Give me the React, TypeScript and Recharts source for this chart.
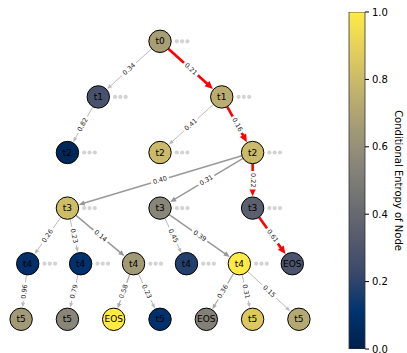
import React from 'react';
import { ScatterChart, Scatter, XAxis, YAxis, ReferenceLine, BarChart, Bar } from 'recharts';

const FONT = 'DejaVu Sans, Verdana, sans-serif';

// ---- nodes ----
const nodeLabels = ['t0', 't1', 't1', 't2', 't2', 't2', 't3', 't3', 't3', 't4', 't4', 't4', 't4', 't4', 'EOS', 't5', 't5', 'EOS', 't5', 'EOS', 't5', 't5'];
const nodeLevels = [0, 1, 1, 2, 2, 2, 3, 3, 3, 4, 4, 4, 4, 4, 4, 5, 5, 5, 5, 5, 5, 5];
const nodeEntropy = [0.67, 0.28, 0.74, 0.04, 0.8, 0.8, 0.81, 0.55, 0.35, 0.09, 0.1, 0.65, 0.18, 1.0, 0.29, 0.65, 0.55, 1.0, 0.1, 0.52, 0.86, 0.72];
const nodeHasMore = [1, 1, 1, 1, 1, 1, 1, 1, 1, 1, 1, 1, 1, 1, 0, 0, 0, 0, 0, 0, 0, 0];

// ---- edges ----
const edgeFrom = [0, 0, 1, 2, 2, 5, 5, 5, 6, 6, 6, 7, 7, 8, 9, 10, 11, 11, 13, 13, 13];
const edgeTo = [1, 2, 3, 4, 5, 6, 7, 8, 9, 10, 11, 12, 13, 14, 15, 16, 17, 18, 19, 20, 21];
const edgeProb = [0.34, 0.21, 0.82, 0.41, 0.16, 0.40, 0.31, 0.22, 0.26, 0.23, 0.14, 0.45, 0.39, 0.61, 0.96, 0.79, 0.58, 0.23, 0.36, 0.31, 0.15];
const edgeKind = ['weak', 'best', 'weak', 'weak', 'best', 'strong', 'strong', 'best', 'weak', 'weak', 'strong', 'weak', 'strong', 'best', 'weak', 'weak', 'mid', 'weak', 'mid', 'weak', 'weak'];

// ---- colorbar ----
const cbTicks = [0, 0.2, 0.4, 0.6, 0.8, 1.0];
const cbTitle = 'Conditional Entropy of Node';

const CIVIDIS = ['#00204d', '#00336f', '#39486b', '#575c6d', '#707173', '#8a8779', '#a69d75', '#c4b56c', '#e4cf5b', '#ffea46'];

function hexToRgb(h: string) {
  return [parseInt(h.slice(1, 3), 16), parseInt(h.slice(3, 5), 16), parseInt(h.slice(5, 7), 16)];
}
function cividis(t: number) {
  const v = Math.max(0, Math.min(1, t)) * (CIVIDIS.length - 1);
  const i = Math.min(CIVIDIS.length - 2, Math.floor(v));
  const f = v - i;
  const a = hexToRgb(CIVIDIS[i]);
  const b = hexToRgb(CIVIDIS[i + 1]);
  const c = a.map((x, k) => Math.round(x + (b[k] - x) * f));
  return `rgb(${c[0]},${c[1]},${c[2]})`;
}

const levelCounts: Record<number, number> = {};
nodeLevels.forEach((l) => { levelCounts[l] = (levelCounts[l] || 0) + 1; });
const levelSeen: Record<number, number> = {};
const nodes = nodeLabels.map((label, i) => {
  const l = nodeLevels[i];
  const idx = levelSeen[l] || 0;
  levelSeen[l] = idx + 1;
  return {
    x: (idx + 1) / (levelCounts[l] + 1),
    y: l,
    label,
    color: cividis(nodeEntropy[i]),
    more: nodeHasMore[i] === 1,
  };
});

const R = 11.2;
const STYLES: Record<string, { stroke: string; w: number; hl: number; hw: number }> = {
  best: { stroke: '#ff0000', w: 2.6, hl: 8, hw: 3.6 },
  strong: { stroke: '#999999', w: 1.5, hl: 6, hw: 2.6 },
  mid: { stroke: '#aaaaaa', w: 1.2, hl: 5, hw: 2.2 },
  weak: { stroke: '#bbbbbb', w: 1, hl: 5, hw: 2 },
};

const makeEdgeShape = (k: number) => (p: any) => {
  const { x1, y1, x2, y2 } = p;
  const st = STYLES[edgeKind[k]];
  const dx = x2 - x1;
  const dy = y2 - y1;
  const L = Math.hypot(dx, dy) || 1;
  const ux = dx / L;
  const uy = dy / L;
  const sx = x1 + ux * R;
  const sy = y1 + uy * R;
  const tx = x2 - ux * (R + 0.6);
  const ty = y2 - uy * (R + 0.6);
  const bx = tx - ux * st.hl;
  const by = ty - uy * st.hl;
  const px = -uy;
  const py = ux;
  let ang = (Math.atan2(dy, dx) * 180) / Math.PI;
  if (ang > 90) ang -= 180;
  if (ang <= -90) ang += 180;
  const mx = (x1 + x2) / 2;
  const my = (y1 + y2) / 2;
  const txt = edgeProb[k].toFixed(2);
  const fs = 6.5;
  const tw = txt.length * fs * 0.6 + 3;
  const th = fs + 2.5;
  return (
    <g>
      <line x1={sx} y1={sy} x2={bx + ux * 1} y2={by + uy * 1} stroke={st.stroke} strokeWidth={st.w} />
      <polygon
        points={`${tx},${ty} ${bx + px * st.hw},${by + py * st.hw} ${bx - px * st.hw},${by - py * st.hw}`}
        fill={st.stroke}
      />
      <g transform={`translate(${mx},${my}) rotate(${ang})`}>
        <rect x={-tw / 2} y={-th / 2} width={tw} height={th} rx={1.5} fill="#ffffff" />
        <text x={0} y={0} textAnchor="middle" dominantBaseline="central" fontSize={fs} fontFamily={FONT} fill="#222">
          {txt}
        </text>
      </g>
    </g>
  );
};

const NodeShape = (p: any) => {
  const { cx, cy, payload } = p;
  return (
    <g>
      {payload.more &&
        [0, 1, 2].map((i) => <circle key={i} cx={cx + 16.8 + i * 5.3} cy={cy} r={2.1} fill="#d3d3d3" />)}
      <circle cx={cx} cy={cy} r={R} fill={payload.color} stroke="#000" strokeWidth={1} />
      <text x={cx} y={cy} textAnchor="middle" dominantBaseline="central" fontSize={9} fontFamily={FONT} fill="#000">
        {payload.label}
      </text>
    </g>
  );
};

const cbData = [{ name: 'cb', v: 1 }];

const CbLabel = (props: any) => {
  const vb = props.viewBox || { x: 0, y: 0, width: 0, height: 0 };
  const x = vb.x + 33;
  const y = vb.y + vb.height / 2;
  return (
    <text
      x={x}
      y={y}
      transform={`rotate(90 ${x} ${y})`}
      textAnchor="middle"
      dominantBaseline="central"
      fontSize={10}
      fontFamily={FONT}
      fill="#000"
    >
      {cbTitle}
    </text>
  );
};

export default function App() {
  return (
    <div style={{ position: 'absolute', left: 0, top: 0, width: 407, height: 353, background: '#fff' }}>
      <svg width={0} height={0} style={{ position: 'absolute' }}>
        <defs>
          <linearGradient id="cividisGrad" x1="0" y1="1" x2="0" y2="0">
            {CIVIDIS.map((c, i) => (
              <stop key={i} offset={i / (CIVIDIS.length - 1)} stopColor={c} />
            ))}
          </linearGradient>
        </defs>
      </svg>
      <div style={{ position: 'absolute', left: 0, top: 0 }}>
        <ScatterChart width={407} height={353} margin={{ top: 0, right: 0, bottom: 0, left: 0 }}>
          <XAxis type="number" dataKey="x" domain={[0.068, 1.1668]} allowDataOverflow hide height={0} />
          <YAxis type="number" dataKey="y" domain={[-0.743, 5.606]} allowDataOverflow reversed hide width={0} />
          {edgeFrom.map((f, k) => (
            <ReferenceLine
              key={k}
              segment={[
                { x: nodes[f].x, y: nodes[f].y },
                { x: nodes[edgeTo[k]].x, y: nodes[edgeTo[k]].y },
              ]}
              shape={makeEdgeShape(k)}
            />
          ))}
          <Scatter data={nodes} shape={NodeShape} isAnimationActive={false} />
        </ScatterChart>
      </div>
      <div style={{ position: 'absolute', left: 340, top: 0 }}>
        <BarChart
          width={67}
          height={353}
          data={cbData}
          margin={{ top: 12, right: 0, bottom: 4, left: 9 }}
          barCategoryGap={0}
          style={{ overflow: 'visible' }}
        >
          <XAxis dataKey="name" hide height={0} />
          <YAxis
            orientation="right"
            type="number"
            domain={[0, 1]}
            ticks={cbTicks}
            interval={0}
            allowDataOverflow
            width={42}
            axisLine={false}
            tickSize={4}
            tickMargin={3}
            tickLine={{ stroke: '#000' }}
            tick={{ fill: '#000', fontSize: 10, fontFamily: FONT }}
            tickFormatter={(v: number) => v.toFixed(1)}
            label={CbLabel}
          />
          <Bar dataKey="v" fill="url(#cividisGrad)" stroke="#333" strokeWidth={0.8} isAnimationActive={false} />
        </BarChart>
      </div>
    </div>
  );
}
